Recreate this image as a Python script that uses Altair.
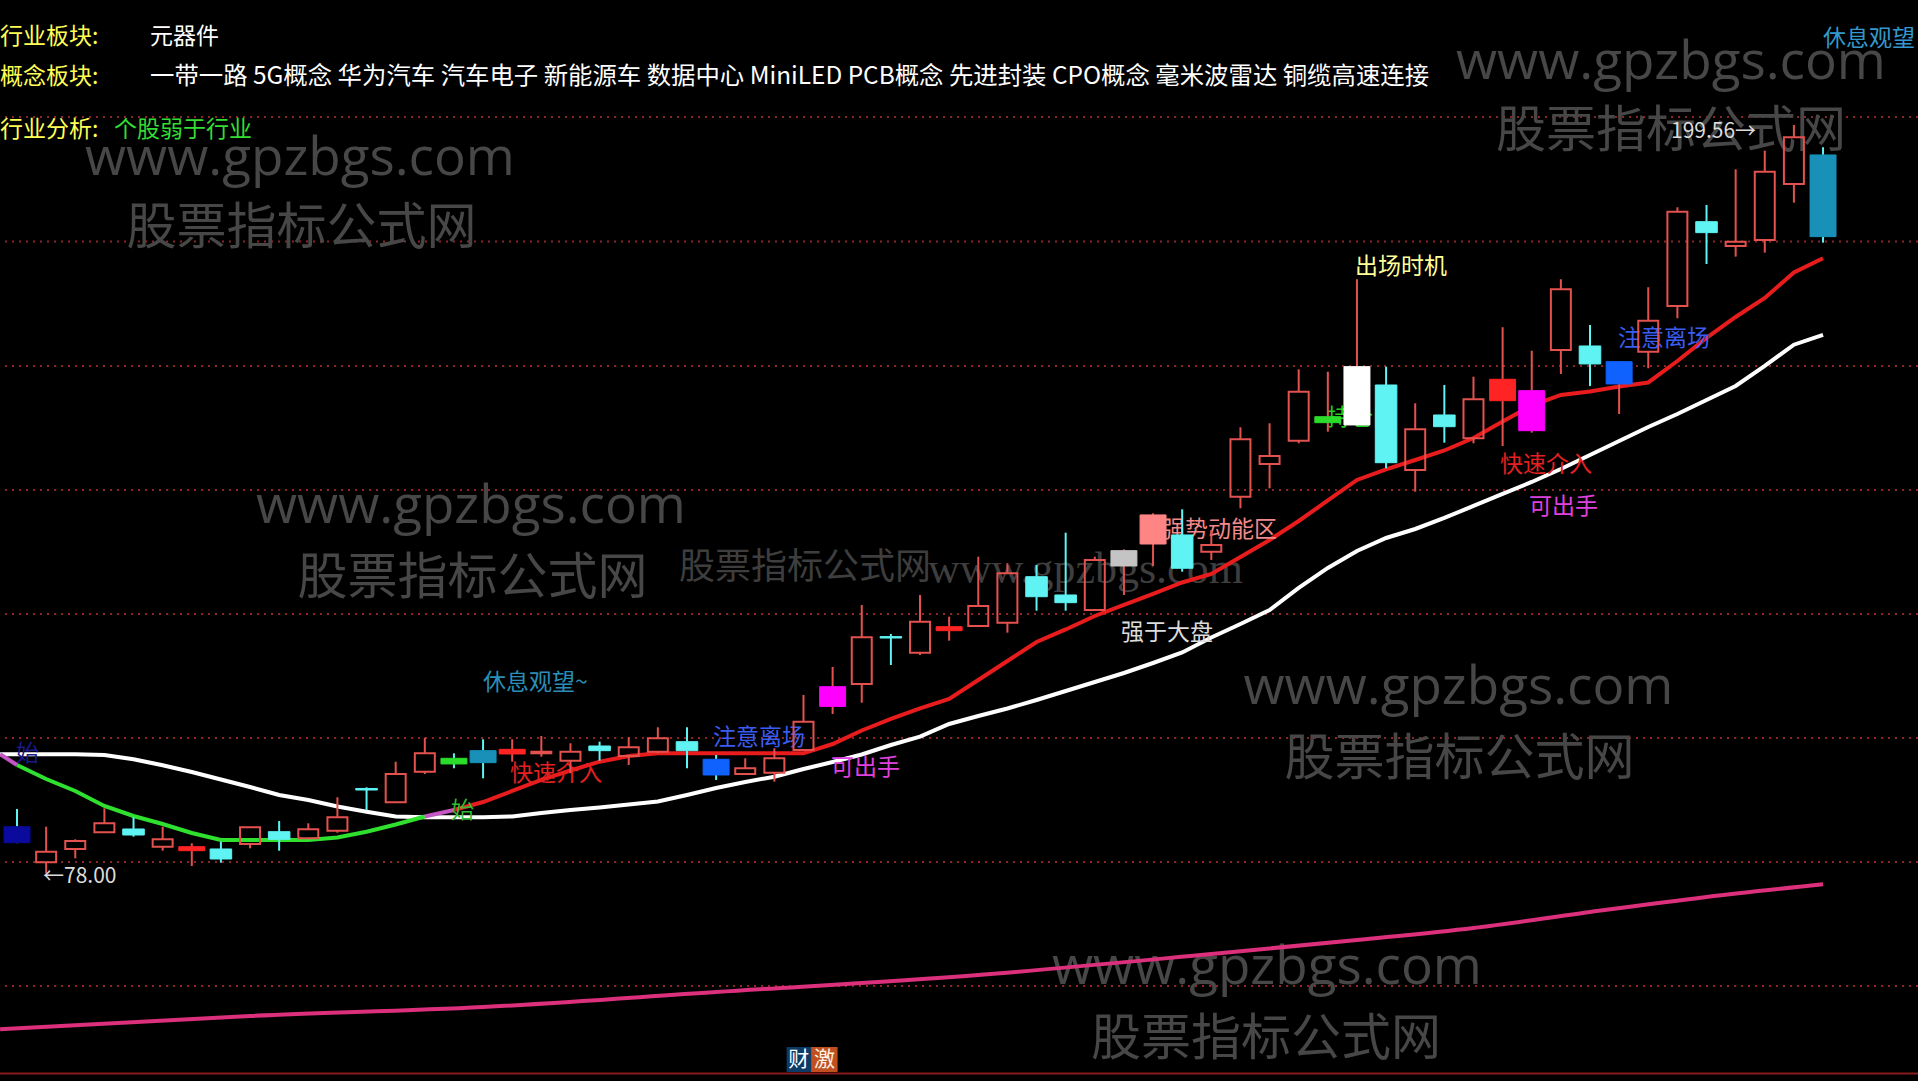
import altair as alt
import pandas as pd

# ---------------- data ----------------
idx = list(range(63))
opens = [85.57, 79.79, 81.95, 84.66, 85.20, 82.32, 81.67, 81.95, 82.76, 84.76,
         83.69, 84.92, 91.78, 89.53, 94.50, 96.68, 97.92, 97.38, 97.49, 96.29,
         98.68, 97.06, 97.75, 99.38, 96.52, 94.13, 94.34, 98.03, 105.11, 108.75,
         116.45, 113.84, 117.41, 118.17, 118.71, 126.18, 123.21, 120.77, 127.92, 131.49,
         132.96, 130.24, 139.18, 144.49, 148.28, 151.20, 150.83, 157.32, 143.52, 152.45,
         148.67, 154.77, 149.90, 163.01, 163.66, 157.49, 162.73, 170.16, 183.85, 179.90,
         180.88, 189.98, 194.69]
closes = [82.97, 81.51, 83.25, 86.12, 84.22, 83.52, 82.32, 80.32, 85.47, 83.52,
          85.15, 87.10, 91.53, 94.13, 97.49, 95.76, 95.97, 98.14, 97.75, 97.75,
          97.92, 98.47, 99.93, 97.92, 93.97, 95.06, 96.68, 102.63, 108.31, 116.34,
          116.22, 118.87, 118.06, 121.42, 126.74, 122.93, 121.96, 128.90, 130.41, 136.21,
          127.55, 131.33, 148.50, 145.79, 156.24, 152.17, 160.30, 144.70, 150.13, 150.55,
          155.00, 158.25, 156.40, 172.87, 160.74, 161.11, 167.77, 185.48, 182.07, 180.60,
          191.97, 197.56, 181.42]
highs = [88.45, 85.57, 83.52, 88.56, 87.10, 85.57, 82.87, 83.13, 85.50, 86.50,
         86.12, 90.35, 91.97, 96.13, 100.03, 97.49, 99.77, 99.77, 100.30, 99.12,
         99.38, 100.09, 101.72, 101.72, 97.22, 96.68, 98.31, 106.97, 111.51, 121.59,
         116.87, 123.21, 119.68, 129.43, 128.36, 128.08, 133.33, 129.43, 130.63, 136.48,
         137.13, 133.77, 150.45, 151.10, 159.87, 159.48, 174.50, 160.30, 154.35, 157.32,
         158.67, 166.70, 162.90, 174.50, 167.07, 161.20, 173.20, 186.19, 186.56, 192.36,
         195.39, 199.56, 195.94]
lows = [82.90, 78.00, 80.44, 84.60, 83.95, 81.67, 79.19, 79.72, 82.06, 81.67,
        83.60, 84.60, 88.28, 89.50, 94.13, 95.06, 93.43, 96.13, 96.94, 94.25,
        96.29, 95.59, 97.49, 95.06, 93.16, 94.10, 92.88, 98.00, 103.88, 105.71,
        111.84, 113.46, 115.79, 118.10, 117.09, 120.66, 120.66, 120.70, 123.21, 127.92,
        126.99, 128.90, 137.29, 140.54, 147.85, 149.74, 150.80, 143.79, 139.99, 147.95,
        147.85, 147.41, 149.58, 159.11, 157.16, 152.61, 160.04, 168.16, 176.98, 178.17,
        178.82, 186.94, 180.44]
kinds = ["navy", "up", "up", "up", "down", "up", "red", "down", "up", "down",
         "up", "up", "down", "up", "up", "green", "teal", "red", "up", "up",
         "down", "up", "up", "down", "blue", "up", "up", "up", "magenta", "up",
         "down", "up", "red", "up", "up", "down", "down", "up", "grey", "salmon",
         "down", "up", "up", "up", "up", "green", "white", "down", "up", "down",
         "up", "red", "magenta", "up", "down", "blue", "up", "up", "down", "up",
         "up", "up", "teal"]

line_start = -0.58  # left edge of the window, in bar units
white_first = 97.33
white_ma = [97.33, 97.33, 97.33, 97.22, 96.52, 95.54, 94.46, 93.24, 92.02, 90.72,
            89.91, 88.85, 88.01, 87.23, 87.10, 87.10, 87.10, 87.23, 87.80, 88.28,
            88.69, 89.18, 89.66, 90.72, 91.86, 92.83, 93.69, 94.94, 96.08, 97.30,
            98.84, 100.19, 102.25, 103.55, 104.77, 106.15, 107.61, 109.08, 110.54, 112.16,
            113.87, 116.31, 118.50, 120.77, 124.35, 127.60, 130.36, 132.47, 133.93, 135.72,
            137.67, 139.62, 141.57, 143.68, 145.95, 148.23, 150.50, 152.61, 154.89, 157.16,
            160.41, 163.87, 165.45]
fast_first = 97.33
fast_ma = [95.59, 93.32, 91.37, 88.93, 87.31, 86.01, 84.55, 83.41, 83.41, 83.41,
           83.41, 83.82, 84.76, 85.93, 87.23, 88.28, 89.58, 91.37, 93.16, 94.70,
           96.13, 97.06, 97.49, 97.49, 97.49, 97.49, 97.49, 97.49, 99.00, 101.20,
           103.07, 104.80, 106.32, 109.40, 112.49, 115.57, 117.61, 119.80, 121.59, 123.37,
           125.24, 126.62, 129.38, 132.14, 135.23, 138.56, 141.89, 143.60, 145.14, 146.68,
           148.71, 151.39, 153.99, 155.70, 156.27, 157.08, 157.73, 161.22, 164.96, 168.37,
           171.46, 175.60, 177.91]
green_end = 14   # fast line is green up to this bar, red from the next
long_ma_idx = [-0.58, 8, 16, 24, 33, 41, 46, 50, 54, 58, 62]
long_ma = [52.66, 54.82, 56.28, 58.72, 61.48, 64.89, 67.16, 69.11, 71.71, 74.15, 76.21]

grid_levels = [59.69, 79.84, 99.98, 120.12, 140.27, 160.41, 180.63, 200.86]
frame_level = 45.48

industry = "元器件"
concepts = "一带一路 5G概念 华为汽车 汽车电子 新能源车 数据中心 MiniLED PCB概念 先进封装 CPO概念 毫米波雷达 铜缆高速连接"
analysis = "个股弱于行业"

# ---------------- scales ----------------
W, H = 1918, 1081
xs = alt.Scale(domain=[-0.5836, 65.2602], nice=False, zero=False)
ys = alt.Scale(domain=[44.26, 219.86], nice=False, zero=False)
FONT = "Noto Sans CJK SC"

def X(f="x", t="Q"):
    return alt.X(f"{f}:{t}", scale=xs, axis=None)

def Y(f="y", t="Q"):
    return alt.Y(f"{f}:{t}", scale=ys, axis=None)

# ---------------- candle table ----------------
fill_map = {"up": "#e4524f", "down": "#5ff3f3", "navy": "#0a0a9c", "red": "#ff2424",
            "green": "#2bdc2b", "teal": "#1890b8", "blue": "#0f62fe", "magenta": "#ff00ff",
            "grey": "#c4c4c4", "salmon": "#ff8484", "white": "#ffffff"}
cd = pd.DataFrame({"i": idx, "open": opens, "close": closes, "high": highs,
                   "low": lows, "kind": kinds})
cd["top"] = cd[["open", "close"]].max(axis=1)
cd["bot"] = cd[["open", "close"]].min(axis=1)
cd["wick"] = ["#e4524f" if c >= o else "#5ff3f3" for o, c in zip(cd.open, cd.close)]
cd["fill"] = cd["kind"].map(fill_map)
hw = {"up": 0.343, "down": 0.37}
cd["hw"] = [hw.get(k, 0.446) for k in cd.kind]
cd["x1"] = cd.i - cd.hw
cd["x2"] = cd.i + cd.hw

base = alt.Chart(cd)
wick_up = base.mark_rule(strokeWidth=2).encode(
    x=X("i"), y=Y("high"), y2="top", color=alt.Color("wick:N", scale=None))
wick_dn = base.mark_rule(strokeWidth=2).encode(
    x=X("i"), y=Y("bot"), y2="low", color=alt.Color("wick:N", scale=None))
hollow = base.transform_filter("datum.kind == 'up'").mark_rect(
    filled=False, strokeWidth=2).encode(
    x=X("x1"), x2="x2", y=Y("top"), y2="bot", stroke=alt.Stroke("fill:N", scale=None))
solid = base.transform_filter("datum.kind != 'up'").mark_rect(strokeWidth=1).encode(
    x=X("x1"), x2="x2", y=Y("top"), y2="bot",
    fill=alt.Fill("fill:N", scale=None), stroke=alt.Stroke("fill:N", scale=None))

# ---------------- lines ----------------
wd = pd.DataFrame({"x": [line_start] + idx, "y": [white_first] + white_ma})
white_line = alt.Chart(wd).mark_line(strokeWidth=4, color="#ffffff").encode(x=X(), y=Y())

fx = [line_start] + idx
fy = [fast_first] + fast_ma
rows = []
rows += [{"x": fx[0], "y": fy[0], "seg": "m1", "c": "#c455c4"},
         {"x": fx[1], "y": fy[1], "seg": "m1", "c": "#c455c4"}]
for k in range(0, green_end + 1):
    rows.append({"x": idx[k], "y": fast_ma[k], "seg": "g", "c": "#2fe02f"})
for k in (green_end, green_end + 1):
    rows.append({"x": idx[k], "y": fast_ma[k], "seg": "m2", "c": "#c455c4"})
for k in range(green_end + 1, 63):
    rows.append({"x": idx[k], "y": fast_ma[k], "seg": "r", "c": "#e81c1c"})
fast_line = alt.Chart(pd.DataFrame(rows)).mark_line(strokeWidth=4).encode(
    x=X(), y=Y(), detail="seg:N", color=alt.Color("c:N", scale=None), order="x:Q")

ld = pd.DataFrame({"x": long_ma_idx, "y": long_ma})
long_line = alt.Chart(ld).mark_line(strokeWidth=4, color="#dc2f7c",
                                    interpolate="monotone").encode(x=X(), y=Y())

grid = alt.Chart(pd.DataFrame({"y": grid_levels})).mark_rule(
    color="#8a2626", strokeWidth=2, strokeDash=[2, 5]).encode(y=Y())
frame = alt.Chart(pd.DataFrame({"y": [frame_level]})).mark_rule(
    color="#8a1c1c", strokeWidth=2).encode(y=Y())

# ---------------- texts ----------------
def texts(rows, font=FONT, **kw):
    df = pd.DataFrame(rows, columns=["t", "x", "y", "c"])
    return alt.Chart(df).mark_text(font=font, baseline="middle", **kw).encode(
        x=X(), y=Y(), text="t:N", color=alt.Color("c:N", scale=None))

wm_c = "#474747"
watermark = alt.layer(
    texts([["www.gpzbgs.com", 9.715, 194.0, wm_c], ["www.gpzbgs.com", 15.585, 137.5, wm_c],
           ["www.gpzbgs.com", 56.78, 209.6, wm_c], ["www.gpzbgs.com", 49.485, 108.1, wm_c],
           ["www.gpzbgs.com", 42.911, 62.6, wm_c]], font="Open Sans", align="center", fontSize=53),
    texts([["股票指标公式网", 9.767, 182.67, wm_c], ["股票指标公式网", 15.637, 125.81, wm_c],
           ["股票指标公式网", 56.78, 198.42, wm_c], ["股票指标公式网", 49.519, 96.41, wm_c],
           ["股票指标公式网", 42.877, 50.92, wm_c]], align="center", fontSize=50),
    texts([["股票指标公式网", 22.726, 127.6, "#3e3e3e"]], align="left", fontSize=36),
    texts([["www.gpzbgs.com", 31.274, 127.3, "#3e3e3e"]], font="Liberation Serif",
          align="left", fontSize=44),
)

signals = texts([
    ["出场时机", 45.932, 176.41, "#ffff99"],
    ["持仓区", 44.971, 151.96, "#22cc22"],
    ["强势动能区", 39.306, 133.77, "#f28a8a"],
    ["强于大盘", 37.899, 117.04, "#dcdcdc"],
    ["休息观望~", 15.997, 108.91, "#2a8fb8"],
    ["注意离场", 23.893, 99.90, "#3a5cf0"],
    ["注意离场", 54.961, 164.80, "#3a5cf0"],
    ["快速介入", 16.924, 94.13, "#e42020"],
    ["快速介入", 50.910, 144.33, "#e42020"],
    ["可出手", 27.944, 95.11, "#e040e0"],
    ["可出手", 51.905, 137.51, "#e040e0"],
    ["始", 14.899, 88.12, "#33bb33"],
    ["始", -0.034, 97.38, "#1a1a8c"],
], align="left", fontSize=23)

header = alt.layer(
    texts([["行业板块:", -0.58, 213.78, "#ffff54"], ["概念板块:", -0.58, 207.28, "#ffff54"],
           ["行业分析:", -0.58, 198.75, "#ffff54"], [industry, 4.566, 213.78, "#ffffff"],
           [analysis, 3.33, 198.75, "#33dd33"], ["休息观望", 62.0, 213.53, "#3399cc"]],
          align="left", fontSize=23),
    texts([[concepts, 4.566, 207.28, "#ffffff"]], align="left", fontSize=24.4),
    texts([["199.56→", 56.78, 198.42, "#dcdcdc"], ["←78.00", 0.893, 77.40, "#dcdcdc"]],
          align="left", fontSize=21),
)

badge_df = pd.DataFrame({"x1": [26.42, 27.26], "x2": [27.26, 28.17],
                         "y1": [45.72, 45.72], "y2": [49.78, 49.78],
                         "c": ["#0b3a66", "#c05020"]})
badge = alt.Chart(badge_df).mark_rect().encode(
    x=X("x1"), x2="x2", y=Y("y1"), y2="y2", fill=alt.Fill("c:N", scale=None))
badge_t = texts([["财", 26.84, 47.75, "#ffffff"], ["激", 27.72, 47.75, "#fff2e0"]],
                align="center", fontSize=21)

chart = alt.layer(
    grid, frame, watermark, long_line, white_line, fast_line, signals,
    wick_up, wick_dn, hollow, solid, header, badge, badge_t
).properties(
    width=W, height=H, background="#000000", padding=0,
    autosize=alt.AutoSizeParams(type="none")
).configure_view(strokeWidth=0)

chart.save("out.html", embed_options={"renderer": "svg", "actions": False})
